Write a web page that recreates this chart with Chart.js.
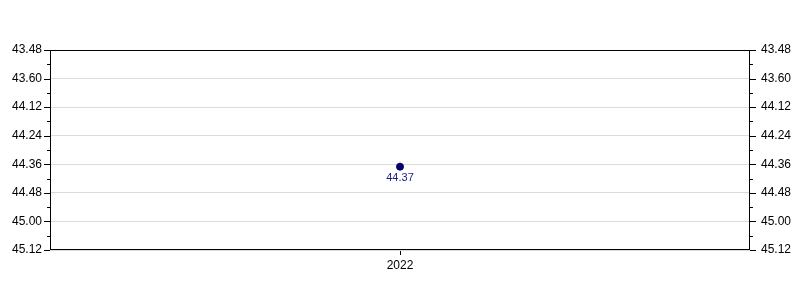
<!DOCTYPE html>
<html>
<head>
<meta charset="utf-8">
<script src="https://cdn.jsdelivr.net/npm/chart.js@4"></script>
<style>
  html, body { margin: 0; padding: 0; background: #fff; }
  #wrap { width: 800px; height: 300px; }
</style>
</head>
<body>
<div id="wrap"><canvas id="chart"></canvas></div>
<script>
// data (values are minutes.seconds)
const years = ["2022"];
const times = [44.37];
const yTickLabels = ["43.48", "43.60", "44.12", "44.24", "44.36", "44.48", "45.00", "45.12"];

// "mm.ss" -> seconds, so the axis is linear in time
const toSec = (v) => {
  const [m, s] = String(v).split(".");
  return parseInt(m, 10) * 60 + parseInt((s || "0").padEnd(2, "0"), 10);
};
const tickSecs = yTickLabels.map(toSec);
const yMin = tickSecs[0];
const yMax = tickSecs[tickSecs.length - 1];
const step = tickSecs[1] - tickSecs[0];

const labelFor = (value) => {
  const i = tickSecs.indexOf(value);
  return i >= 0 ? yTickLabels[i] : "";
};

const font = { family: "'Liberation Sans', Arial, sans-serif", size: 12 };

// frame + major/minor tick marks on both y axes
const framePlugin = {
  id: "frame",
  afterDraw(chart) {
    const ctx = chart.ctx;
    const a = chart.chartArea;
    ctx.save();
    ctx.strokeStyle = "#000";
    ctx.lineWidth = 1;
    ctx.strokeRect(Math.round(a.left) + 0.5, Math.round(a.top) + 0.5,
      Math.round(a.right - a.left) - 1, Math.round(a.bottom - a.top) - 1);
    ["y", "y2"].forEach((id) => {
      const sc = chart.scales[id];
      const left = sc.position === "left";
      sc.ticks.forEach((t, i) => {
        const py = Math.round(sc.getPixelForTick(i)) + 0.5;
        const major = tickSecs.includes(t.value);
        const len = major ? 6 : 3;
        const x0 = left ? Math.round(a.left) : Math.round(a.right);
        ctx.beginPath();
        ctx.moveTo(x0, py);
        ctx.lineTo(left ? x0 - len : x0 + len, py);
        ctx.stroke();
      });
    });
    ctx.restore();
  }
};

// value label under the point
const valueLabelPlugin = {
  id: "valueLabel",
  afterDatasetsDraw(chart) {
    const ctx = chart.ctx;
    const meta = chart.getDatasetMeta(0);
    ctx.save();
    ctx.font = "11px 'Liberation Sans', Arial, sans-serif";
    ctx.fillStyle = "#1a1a8c";
    ctx.textAlign = "center";
    ctx.textBaseline = "middle";
    meta.data.forEach((pt, i) => {
      ctx.fillText(times[i].toFixed(2), pt.x, pt.y + 11);
    });
    ctx.restore();
  }
};

const yAxis = (position, padding) => ({
  type: "linear",
  position,
  reverse: true,
  min: yMin,
  max: yMax,
  afterBuildTicks(scale) {
    const ticks = [];
    for (let v = yMin; v <= yMax; v += step / 2) ticks.push({ value: v });
    scale.ticks = ticks;
  },
  afterFit(scale) { scale.width = 50; },
  ticks: {
    color: "#000",
    font,
    padding,
    autoSkip: false,
    callback: (v) => labelFor(v)
  },
  grid: {
    drawOnChartArea: position === "left",
    drawTicks: false,
    color: (c) => (c.tick && tickSecs.includes(c.tick.value) ? "#dcdcdc" : "rgba(0,0,0,0)")
  },
  border: { display: false }
});

new Chart(document.getElementById("chart"), {
  type: "line",
  data: {
    labels: years,
    datasets: [{
      data: times.map(toSec),
      showLine: false,
      pointRadius: 3.5,
      pointBackgroundColor: "#000080",
      pointBorderColor: "#000040",
      pointBorderWidth: 1
    }]
  },
  options: {
    responsive: true,
    maintainAspectRatio: false,
    animation: false,
    layout: { padding: { top: 50, left: 0, right: 0, bottom: 0 } },
    plugins: {
      legend: { display: false },
      tooltip: { enabled: false }
    },
    scales: {
      x: {
        type: "category",
        offset: true,
        afterFit(scale) { scale.height = 50; },
        ticks: { color: "#000", font, padding: 3, maxRotation: 0 },
        grid: { drawOnChartArea: false, tickLength: 5, tickColor: "#000" },
        border: { display: false }
      },
      y: yAxis("left", 8),
      y2: yAxis("right", 11)
    }
  },
  plugins: [framePlugin, valueLabelPlugin]
});
</script>
</body>
</html>
